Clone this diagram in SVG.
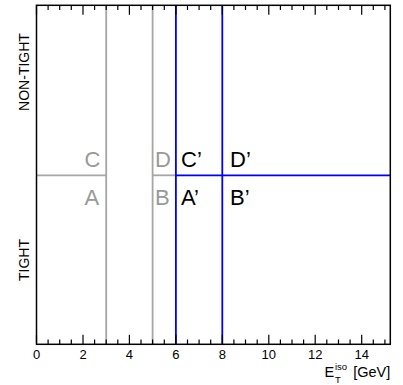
<svg xmlns="http://www.w3.org/2000/svg" width="403" height="385" viewBox="0 0 403 385">
<style>
.frame{fill:none;stroke:#000;stroke-width:1.5}
.tick{stroke:#000;stroke-width:1.2}
.gray{stroke:#a6a6a6;stroke-width:1.8;fill:none}
.blue{stroke:#0000ff;stroke-width:1.8;fill:none}
.tl{font-family:"Liberation Sans",Arial,sans-serif;font-size:13px;text-anchor:middle;fill:#000}
.ax{font-family:"Liberation Sans",Arial,sans-serif;fill:#000}
.yl{font-family:"Liberation Sans",Arial,sans-serif;font-size:14px;text-anchor:middle;fill:#000}
.lg{font-family:"Liberation Sans",Arial,sans-serif;font-size:22px;fill:#999}
.lb{font-family:"Liberation Sans",Arial,sans-serif;font-size:22px;fill:#000}
</style>
<rect width="403" height="385" fill="#fff"/>
<g id="connectors">
<line class="gray" x1="106.2" y1="5.3" x2="106.2" y2="344.3"/>
<line class="gray" x1="152.6" y1="5.3" x2="152.6" y2="344.3"/>
<line class="gray" x1="36.5" y1="175.3" x2="106.2" y2="175.3"/>
<line class="gray" x1="152.6" y1="175.3" x2="175.9" y2="175.3"/>
<line class="blue" x1="175.9" y1="5.3" x2="175.9" y2="344.3"/>
<line class="blue" x1="222.3" y1="5.3" x2="222.3" y2="344.3"/>
<line class="blue" x1="175.9" y1="175.3" x2="390.3" y2="175.3"/>
</g>
<g id="axes">
<rect class="frame" x="36.5" y="5.3" width="353.8" height="339"/>
<path class="tick" d="M36.5 344.3v-9.5M48.1 344.3v-4.7M59.7 344.3v-4.7M71.3 344.3v-4.7M83 344.3v-9.5M94.6 344.3v-4.7M106.2 344.3v-4.7M117.8 344.3v-4.7M129.4 344.3v-9.5M141 344.3v-4.7M152.6 344.3v-4.7M164.3 344.3v-4.7M175.9 344.3v-9.5M187.5 344.3v-4.7M199.1 344.3v-4.7M210.7 344.3v-4.7M222.3 344.3v-9.5M233.9 344.3v-4.7M245.5 344.3v-4.7M257.2 344.3v-4.7M268.8 344.3v-9.5M280.4 344.3v-4.7M292 344.3v-4.7M303.6 344.3v-4.7M315.2 344.3v-9.5M326.8 344.3v-4.7M338.5 344.3v-4.7M350.1 344.3v-4.7M361.7 344.3v-9.5M373.3 344.3v-4.7M384.9 344.3v-4.7"/>
<path class="tick" d="M36.5 5.3v9.5M48.1 5.3v4.7M59.7 5.3v4.7M71.3 5.3v4.7M83 5.3v9.5M94.6 5.3v4.7M106.2 5.3v4.7M117.8 5.3v4.7M129.4 5.3v9.5M141 5.3v4.7M152.6 5.3v4.7M164.3 5.3v4.7M175.9 5.3v9.5M187.5 5.3v4.7M199.1 5.3v4.7M210.7 5.3v4.7M222.3 5.3v9.5M233.9 5.3v4.7M245.5 5.3v4.7M257.2 5.3v4.7M268.8 5.3v9.5M280.4 5.3v4.7M292 5.3v4.7M303.6 5.3v4.7M315.2 5.3v9.5M326.8 5.3v4.7M338.5 5.3v4.7M350.1 5.3v4.7M361.7 5.3v9.5M373.3 5.3v4.7M384.9 5.3v4.7"/>
<text class="tl" x="36.5" y="358.5">0</text>
<text class="tl" x="83" y="358.5">2</text>
<text class="tl" x="129.4" y="358.5">4</text>
<text class="tl" x="175.9" y="358.5">6</text>
<text class="tl" x="222.3" y="358.5">8</text>
<text class="tl" x="268.8" y="358.5">10</text>
<text class="tl" x="315.2" y="358.5">12</text>
<text class="tl" x="361.7" y="358.5">14</text>
<text class="ax" x="324.5" y="377" font-size="14.5">E</text>
<text class="ax" x="335" y="369.5" font-size="9.5">iso</text>
<text class="ax" x="335" y="383" font-size="9.5">T</text>
<text class="ax" x="390.3" y="377" font-size="14.5" text-anchor="end">[GeV]</text>
<text class="yl" transform="translate(28.5,72) rotate(-90)">NON-TIGHT</text>
<text class="yl" transform="translate(28.5,260) rotate(-90)">TIGHT</text>
</g>
<g id="region-C"><text class="lg" x="84.5" y="167">C</text></g>
<g id="region-A"><text class="lg" x="84.5" y="204.5">A</text></g>
<g id="region-D"><text class="lg" x="155" y="167">D</text></g>
<g id="region-B"><text class="lg" x="155" y="204.5">B</text></g>
<g id="region-Cp"><text class="lb" x="181" y="167">C’</text></g>
<g id="region-Ap"><text class="lb" x="181" y="204.5">A’</text></g>
<g id="region-Dp"><text class="lb" x="230" y="167">D’</text></g>
<g id="region-Bp"><text class="lb" x="230" y="204.5">B’</text></g>
</svg>
